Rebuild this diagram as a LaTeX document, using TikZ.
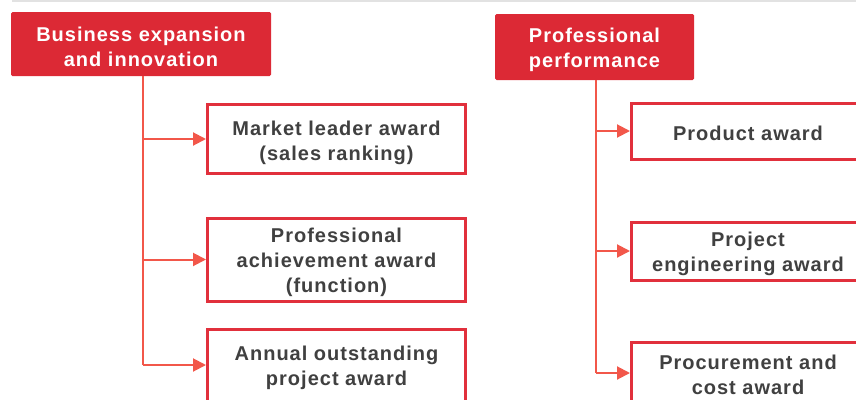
\documentclass[tikz,border=0pt]{standalone}
\usepackage{fontspec}
\setmainfont[LetterSpace=5]{Liberation Sans}
\usetikzlibrary{arrows.meta}
\definecolor{hdrred}{HTML}{DC2935}
\definecolor{boxred}{HTML}{E1303C}
\definecolor{linered}{HTML}{F2574A}
\definecolor{txtgray}{HTML}{404040}
\definecolor{topgray}{HTML}{E2E2E2}
\begin{document}
\begin{tikzpicture}[x=1pt,y=-1pt,
  hdr/.style={fill=hdrred, draw=none, rounded corners=1.5pt, inner sep=0pt},
  hdrtext/.style={text=white, align=center, font=\fontsize{20}{25}\selectfont\bfseries, inner sep=0pt},
  awardbox/.style={draw=boxred, line width=3pt, fill=white, inner sep=0pt},
  awardtext/.style={text=txtgray, align=center, font=\fontsize{20}{25}\selectfont\bfseries, inner sep=0pt},
  trunk/.style={draw=linered, line width=2pt},
  branch/.style={draw=linered, line width=2pt, -{Triangle[length=13pt,width=13pt]}}
]
\useasboundingbox (0,0) rectangle (856,399);
\clip (0,0) rectangle (856,399);
\fill[topgray] (12,0) rectangle (856,1.6);

% Left column
\node[hdr, minimum width=260pt, minimum height=64pt] (lh) at (141,44) {};
\node[hdrtext] (lht) at (141,47) {Business expansion\\and innovation};
\node[awardbox, minimum width=258pt, minimum height=69pt] (l1) at (336.5,139) {};
\node[awardtext] (l1t) at (336.5,143) {Market leader award\\(sales ranking)};
\node[awardbox, minimum width=258pt, minimum height=83pt] (l2) at (336.5,259.5) {};
\node[awardtext] (l2t) at (336.5,262) {Professional\\achievement award\\(function)};
\node[awardbox, minimum width=258pt, minimum height=73pt] (l3) at (336.5,366) {};
\node[awardtext] (l3t) at (336.5,368) {Annual outstanding\\project award};
\coordinate (lt) at (143,365);
\draw[trunk] (lh.south -| lt) -- (lt);
\draw[branch] (lt |- l1.west) -- (l1.west);
\draw[branch] (lt |- l2.west) -- (l2.west);
\draw[branch] (lt) -- (lt -| l3.west);

% Right column
\node[hdr, minimum width=199pt, minimum height=66pt] (rh) at (594.5,47) {};
\node[hdrtext] (rht) at (594.5,50) {Professional\\performance};
\node[awardbox, minimum width=233pt, minimum height=56pt] (r1) at (748,131) {};
\node[awardtext] (r1t) at (748,133) {Product award};
\node[awardbox, minimum width=233pt, minimum height=58pt] (r2) at (748,251) {};
\node[awardtext] (r2t) at (748,254) {Project\\engineering award};
\node[awardbox, minimum width=233pt, minimum height=63pt] (r3) at (748,374) {};
\node[awardtext] (r3t) at (748,375) {Procurement and\\cost award};
\coordinate (rt) at (596,373);
\draw[trunk] (rh.south -| rt) -- (rt);
\draw[branch] (rt |- r1.west) -- (r1.west);
\draw[branch] (rt |- r2.west) -- (r2.west);
\draw[branch] (rt) -- (rt -| r3.west);
\end{tikzpicture}
\end{document}
